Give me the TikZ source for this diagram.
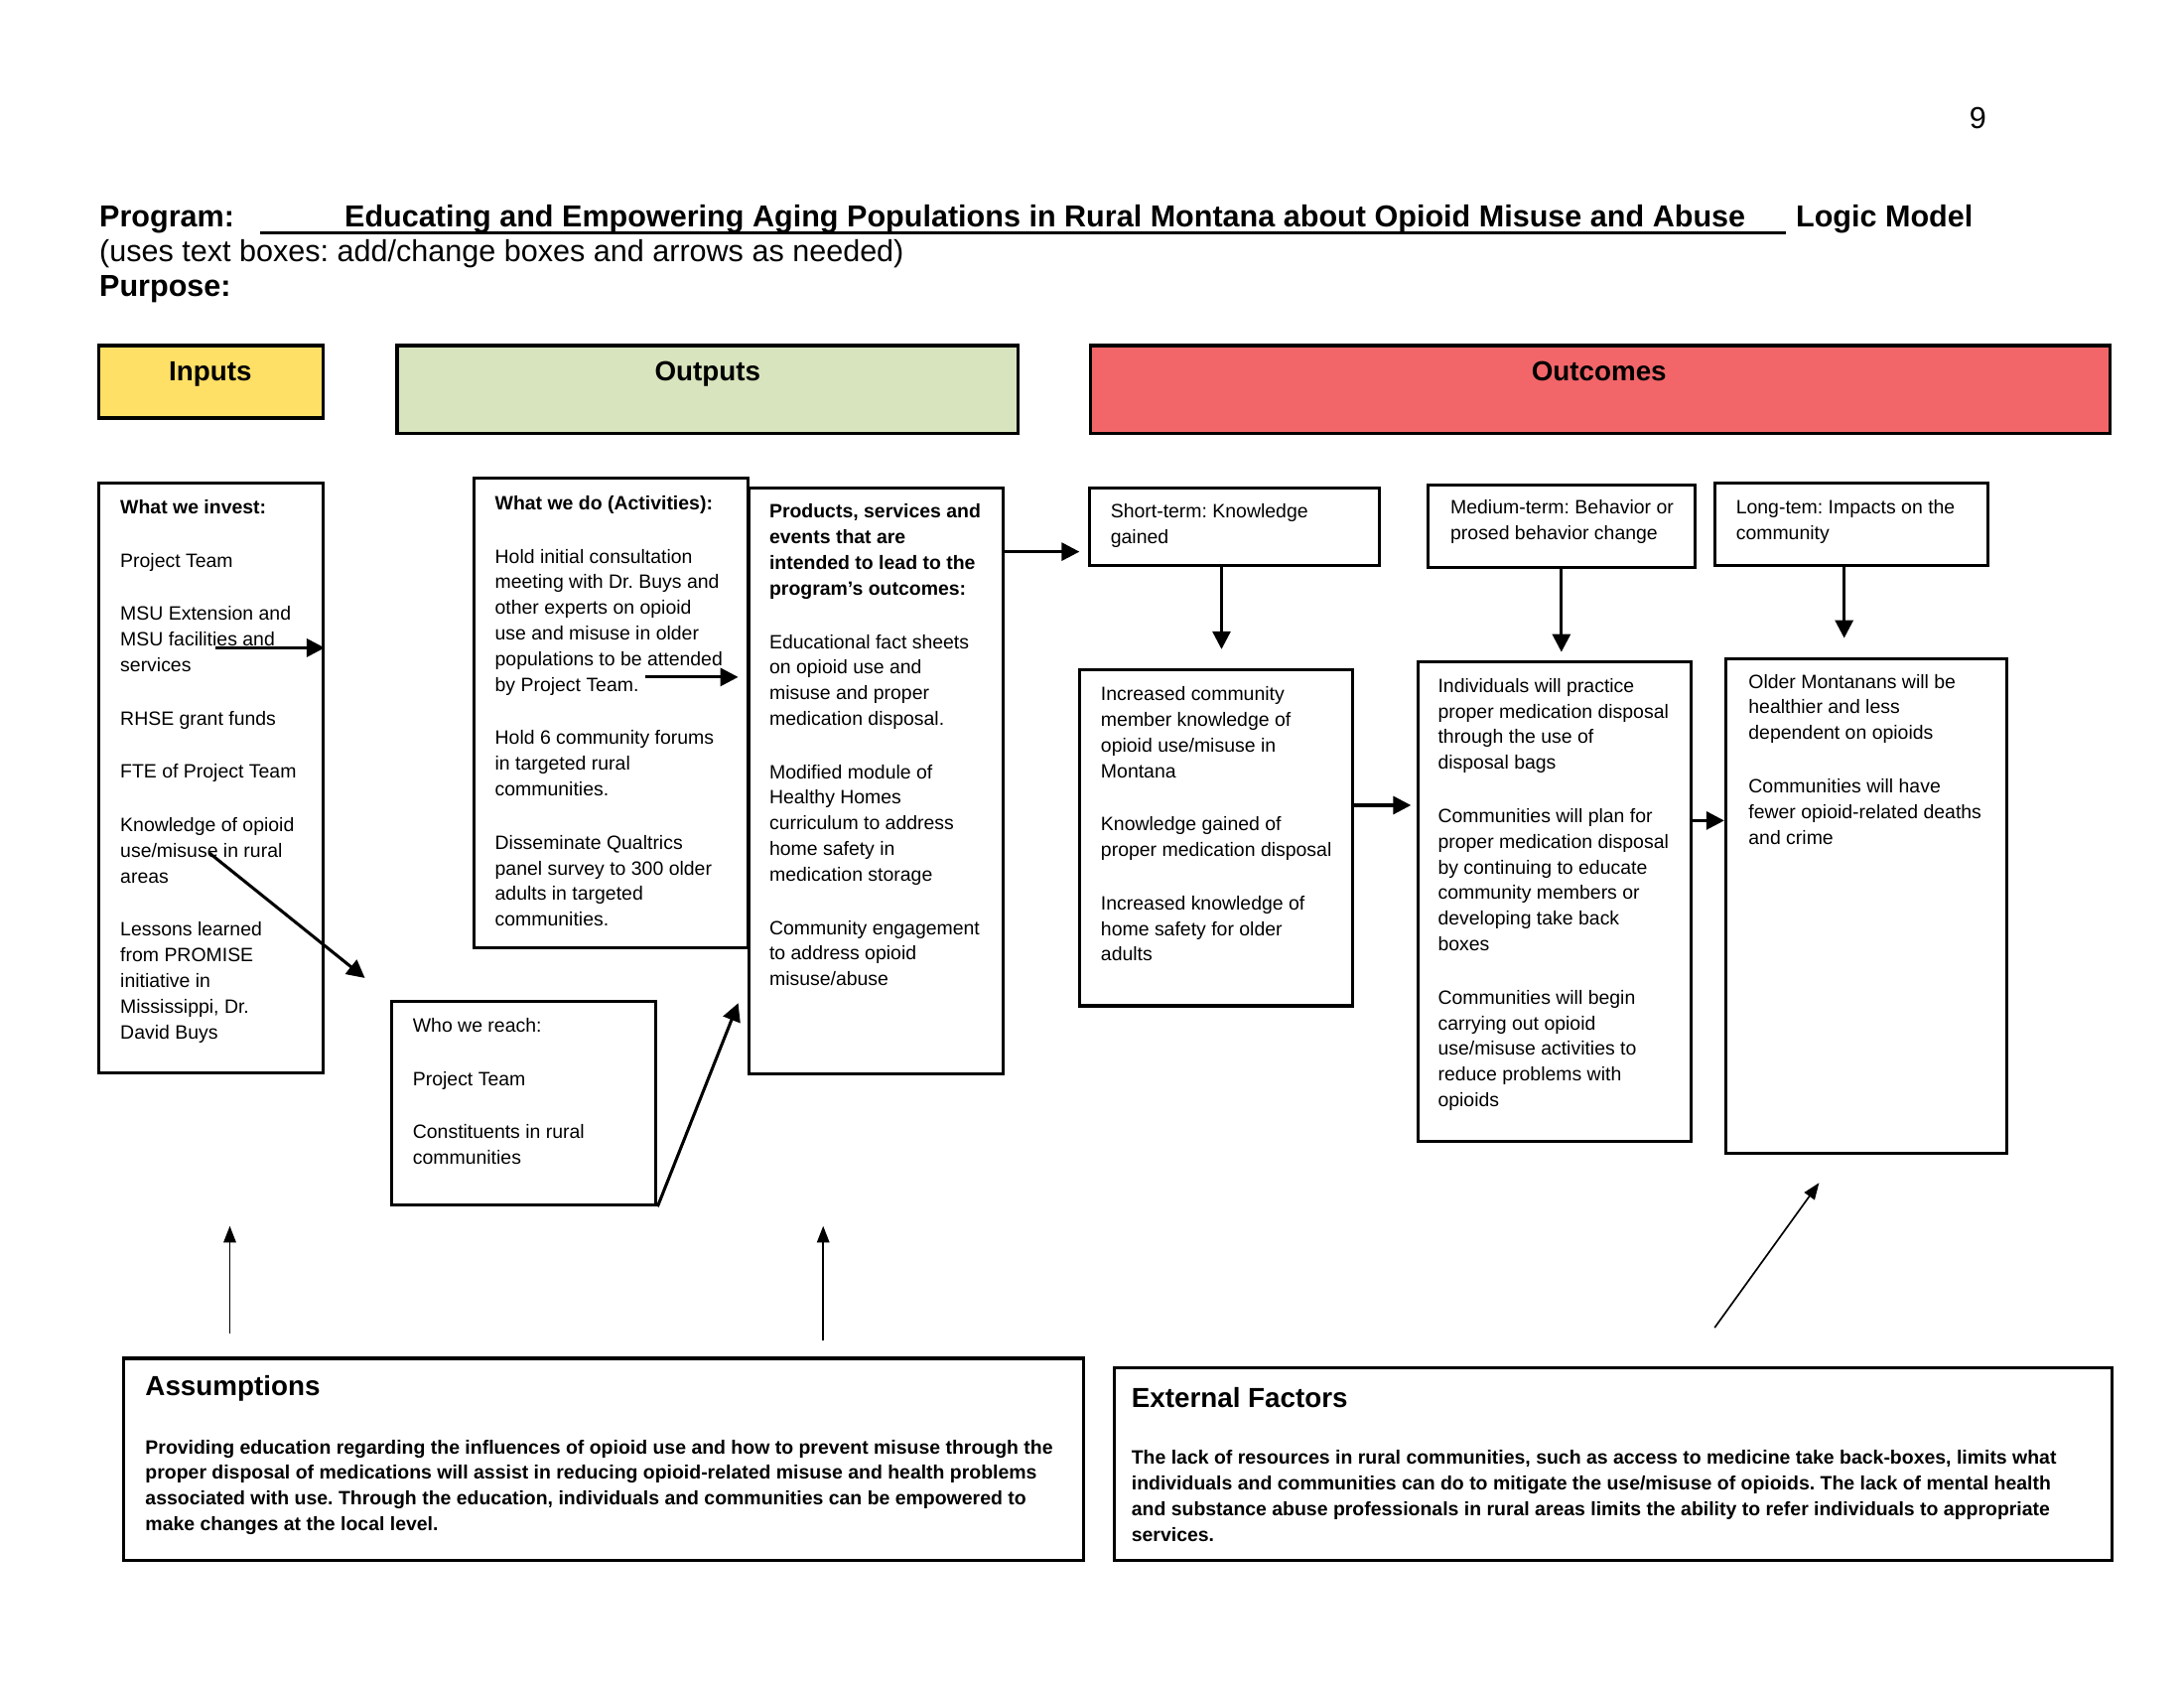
\documentclass[tikz,border=0pt]{standalone}
\usepackage{fontspec}
\setmainfont{Liberation Sans}
\usetikzlibrary{arrows.meta,fit,calc}
\definecolor{inyellow}{RGB}{255,224,102}
\definecolor{outgreen}{RGB}{215,228,189}
\definecolor{outcred}{RGB}{242,102,105}
\frenchspacing
\begin{document}
\begin{tikzpicture}[x=0.505pt,y=-0.505pt,
  box/.style={draw,line width=1.1pt,inner sep=0pt},
  hdr/.style={draw,line width=1.2pt,inner sep=0pt},
  htxt/.style={anchor=base,inner sep=0pt,font=\fontsize{10}{12}\selectfont\bfseries},
  txt/.style={anchor=north west,align=left,inner sep=0pt,font=\fontsize{7}{9.3}\selectfont\frenchspacing},
  btxt/.style={txt,font=\fontsize{7}{9.3}\selectfont\bfseries\frenchspacing},
  ttl/.style={anchor=base west,inner sep=0pt,font=\fontsize{11}{13}\selectfont\frenchspacing},
  btitle/.style={anchor=north west,inner sep=0pt,font=\fontsize{10}{12}\selectfont\bfseries},
  arr/.style={line width=1.1pt,-{Triangle[length=6.5pt,width=6.5pt]}},
  thinarr/.style={line width=0.6pt,-{Triangle[length=6pt,width=4.5pt]}}]
\useasboundingbox (0,0) rectangle (1568,1212);

% page number and title
\node[inner sep=0pt,font=\fontsize{11}{13}\selectfont] (pgnum) at (1420,85) {9};
\node[ttl] (prog) at (71,163) {\bfseries Program:};
\node[ttl] (ptitle) at (247,163) {\bfseries Educating and Empowering Aging Populations in Rural Montana about Opioid Misuse and Abuse};
\node[ttl] (logic) at (1289,163) {\bfseries Logic Model};
\coordinate (ulA) at (187,167);
\coordinate (ulB) at (1282,167);
\draw[line width=1.2pt] (ulA) -- (ulB);
\node[ttl] (uses) at (71,188) {(uses text boxes: add/change boxes and arrows as needed)};
\node[ttl] (purp) at (71,213) {\bfseries Purpose:};

% headers
\node[hdr,fill=inyellow,fit={(71,248)(232,300)}] (hin) {};
\node[hdr,fill=outgreen,fit={(285,248)(731,311)}] (hout) {};
\node[hdr,fill=outcred,fit={(783,248)(1515,311)}] (hoc) {};
\node[htxt] (tin) at (151,273) {Inputs};
\node[htxt] (tout) at (508,273) {Outputs};
\node[htxt] (toc) at (1148,273) {Outcomes};

% boxes
\node[box,fit={(71,347)(232,770)}] (inbox) {};
\node[box,fit={(340,343)(537,680)}] (actbox) {};
\node[box,fit={(538,350)(720,771)}] (prodbox) {};
\node[box,fit={(281,719)(471,865)}] (reachbox) {};
\node[box,fit={(782,350)(990,406)}] (sthead) {};
\node[box,fit={(775,481)(971,722)}] (stbody) {};
\node[box,fit={(1025,348)(1217,407)}] (mdhead) {};
\node[box,fit={(1018,475)(1214,819)}] (mdbody) {};
\node[box,fit={(1231,347)(1427,406)}] (lthead) {};
\node[box,fit={(1239,473)(1441,828)}] (ltbody) {};
\node[box,fit={(89,975)(778,1120)}] (assum) {};
\node[box,fit={(800,982)(1516,1120)}] (ext) {};

% texts
\node[txt] (intxt) at (86,358.5) {\textbf{What we invest:}\\[10pt]Project Team\\[10pt]MSU Extension and\\MSU facilities and\\services\\[10pt]RHSE grant funds\\[10pt]FTE of Project Team\\[10pt]Knowledge of opioid\\use/misuse in rural\\areas\\[10pt]Lessons learned\\from PROMISE\\initiative in\\Mississippi, Dr.\\David Buys};
\node[txt] (acttxt) at (355,355.5) {\textbf{What we do (Activities):}\\[10pt]Hold initial consultation\\meeting with Dr. Buys and\\other experts on opioid\\use and misuse in older\\populations to be attended\\by Project Team.\\[10pt]Hold 6 community forums\\in targeted rural\\communities.\\[10pt]Disseminate Qualtrics\\panel survey to 300 older\\adults in targeted\\communities.};
\node[txt] (prodtxt) at (552,361.5) {\textbf{Products, services and}\\\textbf{events that are}\\\textbf{intended to lead to the}\\\textbf{program’s outcomes:}\\[10pt]Educational fact sheets\\on opioid use and\\misuse and proper\\medication disposal.\\[10pt]Modified module of\\Healthy Homes\\curriculum to address\\home safety in\\medication storage\\[10pt]Community engagement\\to address opioid\\misuse/abuse};
\node[txt] (reachtxt) at (296,730.5) {Who we reach:\\[10pt]Project Team\\[10pt]Constituents in rural\\communities};
\node[txt] (sthtxt) at (797,361.5) {Short-term: Knowledge\\gained};
\node[txt] (stbtxt) at (790,492.5) {Increased community\\member knowledge of\\opioid use/misuse in\\Montana\\[10pt]Knowledge gained of\\proper medication disposal\\[10pt]Increased knowledge of\\home safety for older\\adults};
\node[txt] (mdhtxt) at (1041,358.5) {Medium-term: Behavior or\\prosed behavior change};
\node[txt] (mdbtxt) at (1032,486.5) {Individuals will practice\\proper medication disposal\\through the use of\\disposal bags\\[10pt]Communities will plan for\\proper medication disposal\\by continuing to educate\\community members or\\developing take back\\boxes\\[10pt]Communities will begin\\carrying out opioid\\use/misuse activities to\\reduce problems with\\opioids};
\node[txt] (lthtxt) at (1246,358.5) {Long-tem: Impacts on the\\community};
\node[txt] (ltbtxt) at (1255,483.5) {Older Montanans will be\\healthier and less\\dependent on opioids\\[10pt]Communities will have\\fewer opioid-related deaths\\and crime};

\node[btitle] (assumttl) at (104,987) {Assumptions};
\node[btxt] (assumtxt) at (104,1033) {Providing education regarding the influences of opioid use and how to prevent misuse through the\\proper disposal of medications will assist in reducing opioid-related misuse and health problems\\associated with use. Through the education, individuals and communities can be empowered to\\make changes at the local level.};
\node[btitle] (extttl) at (812,995.5) {External Factors};
\node[btxt] (exttxt) at (812,1040.5) {The lack of resources in rural communities, such as access to medicine take back-boxes, limits what\\individuals and communities can do to mitigate the use/misuse of opioids. The lack of mental health\\and substance abuse professionals in rural areas limits the ability to refer individuals to appropriate\\services.};

% connectors
\coordinate (a1) at (155,465);
\draw[arr] (a1) -- (a1 -| inbox.east);
\coordinate (a2s) at (150,612);
\coordinate (a2e) at (262,702);
\draw[arr] (a2s) -- (a2e);
\coordinate (a3s) at (463,486);
\coordinate (a3e) at (530,486);
\draw[arr] (a3s) -- (a3e);
\coordinate (a4e) at (530,720);
\draw[arr] (reachbox.south east) -- (a4e);
\coordinate (a5e) at (775,396);
\draw[arr] (a5e -| prodbox.east) -- (a5e);
\coordinate (a6e) at (877,466);
\draw[arr] (a6e |- sthead.south) -- (a6e);
\coordinate (a7e) at (1121,468);
\draw[arr] (a7e |- mdhead.south) -- (a7e);
\coordinate (a8e) at (1324,458);
\draw[arr] (a8e |- lthead.south) -- (a8e);
\coordinate (a9e) at (1013,578);
\draw[arr] (a9e -| stbody.east) -- (a9e);
\coordinate (a10) at (1214,589);
\draw[arr] (a10) -- (a10 -| ltbody.west);
\coordinate (u1s) at (165,957);
\coordinate (u1e) at (165,880);
\draw[thinarr] (u1s) -- (u1e);
\coordinate (u2s) at (591,962);
\coordinate (u2e) at (591,880);
\draw[thinarr] (u2s) -- (u2e);
\coordinate (u3s) at (1231,953);
\coordinate (u3e) at (1306,849);
\draw[thinarr] (u3s) -- (u3e);
\end{tikzpicture}
\end{document}
